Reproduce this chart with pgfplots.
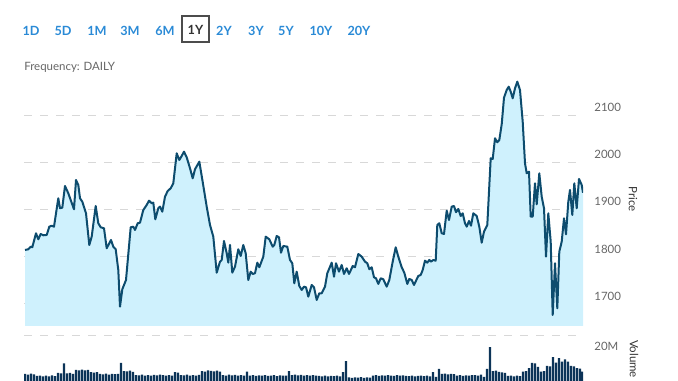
\documentclass[border=0pt]{standalone}
\usepackage{fontspec}
\setmainfont{Lato}
\usepackage{pgfplots}
\usepackage{pgfplotstable}
\pgfplotsset{compat=1.18}
\definecolor{linec}{RGB}{13,76,110}
\definecolor{fillc}{RGB}{207,241,253}
\definecolor{btn}{RGB}{42,138,214}
\definecolor{lbl}{RGB}{102,102,102}
\definecolor{gridc}{RGB}{216,216,216}
\definecolor{volc}{RGB}{12,52,88}

\pgfplotstableread{
x price
25 1813.4
28.3 1814.9
30.7 1820.4
32.3 1819.2
36 1848.9
38.3 1836.1
40.7 1847.4
43.3 1844.6
46.7 1845.3
49.3 1862.9
51.7 1865.0
54 1862.9
58.3 1923.2
60 1902.0
62.3 1903.2
65 1949.3
68.3 1933.8
74 1899.8
76 1962.0
78.3 1951.4
80 1923.2
82.3 1916.0
86 1891.3
89.3 1824.0
91.7 1841.7
95.7 1906.8
98.3 1870.1
100.7 1861.6
104 1859.5
106.7 1817.0
111 1834.7
113.3 1820.4
115.7 1814.9
118.3 1771.0
120 1693.0
122.3 1730.0
126 1749.7
130.7 1861.6
133.3 1862.9
135 1855.9
137.7 1870.1
140 1871.4
143.3 1898.3
146.7 1909.0
149 1918.1
151.7 1912.6
153.3 1913.9
155.3 1878.6
158.3 1902.0
160 1905.4
162.3 1894.8
165 1926.6
167.7 1938.7
170.7 1944.4
173.3 1955.0
176.7 2018.7
179.3 2004.5
181.7 2013.0
184 2022.1
186.7 2010.2
190 1986.9
192.7 1965.6
195 1984.8
199.3 2000.9
201 1979.7
204 1940.8
206.7 1905.4
210 1866.5
213.3 1841.7
216.7 1765.2
220 1788.6
221.7 1792.2
224 1832.5
226.7 1806.4
228.3 1786.5
230 1824.0
232.3 1765.2
235 1778.0
238.3 1814.9
240.7 1800.7
243.3 1824.0
245.7 1806.4
248.3 1749.7
250.7 1767.4
252.7 1762.5
255 1764.0
257.3 1786.5
259.3 1776.7
263.3 1799.2
265.7 1841.7
269.3 1836.1
272.7 1820.4
274.3 1824.0
276.7 1843.1
279 1840.4
281 1807.7
283.3 1821.9
287.3 1820.4
290 1792.2
292.3 1785.2
294.3 1742.7
296.7 1767.4
299.3 1737.0
301.7 1728.5
304 1735.5
306 1734.2
308.3 1714.3
311.7 1739.1
314 1734.2
316.7 1707.3
319.3 1721.5
321.7 1721.5
325 1735.5
327.3 1764.0
331.7 1786.5
334 1756.7
336 1785.2
339 1767.4
341.7 1781.6
344 1762.5
346.7 1774.6
349 1762.5
351.7 1774.6
352.7 1779.5
355 1776.7
358.3 1804.9
361.7 1799.2
365 1788.6
367.3 1785.2
369.3 1772.5
371.7 1776.7
374 1755.5
376 1753.3
378.3 1741.3
380.7 1753.3
383.3 1751.2
386.7 1735.5
389.3 1749.7
392.7 1788.6
395.7 1819.1
398.3 1799.2
401.7 1776.7
404.3 1765.2
407.3 1741.3
409.3 1751.9
411.7 1749.7
414 1739.1
416.7 1751.2
418.3 1758.2
420.7 1760.4
422.7 1771.0
425 1790.7
427.3 1786.5
429.3 1792.2
431 1788.6
433.3 1792.2
435.7 1790.7
437.3 1866.5
439.3 1870.1
441.7 1848.9
444 1847.4
446.7 1896.9
449 1877.1
451.7 1905.4
454 1906.8
456 1893.5
458.3 1900.5
460.7 1885.6
462.7 1891.3
465 1870.1
466.7 1862.9
469 1875.0
471 1865.0
473.3 1891.3
476.7 1885.6
479.3 1862.9
481.7 1828.9
484 1852.3
487.3 1866.5
490.7 2008.1
492.7 2006.6
495 2050.6
497.3 2042.1
499.3 2046.9
501.7 2080.3
504 2136.8
506.7 2153.1
508.7 2160.1
510.7 2149.5
512.7 2135.5
515 2156.7
517.3 2170.8
520 2153.1
522.7 2085.8
525 1997.5
526.7 1976.2
529 1979.7
530.7 1884.1
532.7 1884.1
535 1955.0
536.7 1910.4
539.3 1976.2
541.7 1926.6
544 1902.0
546 1799.2
548.3 1891.3
550.7 1831.0
552.7 1675.4
555 1785.2
557.3 1689.6
559.3 1809.8
561.7 1831.0
564 1880.7
566 1846.7
568.3 1916.0
570 1940.8
572.3 1887.7
574.3 1955.0
576.7 1902.0
579 1964.3
581.7 1951.4
583 1935.0
}\pricedata

\pgfplotstableread{
x vol
25 4.0
28 3.7
31 4.2
34 3.8
37 2.9
40 3.1
43 2.7
46 3.0
49 2.6
52 3.2
55 2.8
58 4.6
61 4.3
64 10.1
67 4.4
70 4.6
73 4.1
76 6.3
79 6.0
82 6.5
85 6.1
88 6.4
91 5.0
94 4.8
97 5.1
100 4.0
103 3.8
106 4.2
109 3.6
112 4.1
115 3.9
118 4.0
121 10.3
124 5.7
127 5.5
130 5.9
133 5.2
136 3.4
139 3.2
142 3.6
145 3.1
148 3.4
151 3.0
154 3.5
157 3.2
160 3.6
163 3.3
166 3.0
169 3.4
172 3.1
175 5.0
178 4.8
181 3.4
184 3.2
187 3.6
190 3.1
193 3.4
196 3.0
199 3.5
202 5.7
205 5.4
208 6.0
211 5.8
214 5.5
217 5.9
220 5.3
223 3.4
226 3.1
229 3.6
232 3.2
235 3.5
238 3.0
241 3.3
244 3.1
247 5.3
250 3.1
253 3.3
256 2.9
259 3.2
262 3.0
265 3.4
268 2.9
271 3.1
274 3.3
277 2.8
280 3.2
283 3.0
286 3.1
289 5.7
292 3.4
295 3.6
298 3.2
301 3.5
304 3.1
307 3.4
310 3.0
313 3.3
316 3.1
319 2.9
322 2.7
325 3.0
328 2.6
331 2.9
334 2.8
337 3.1
340 2.7
343 5.1
346 11.4
349 2.0
352 1.8
355 2.1
358 1.9
361 2.2
364 1.8
367 2.0
370 1.9
373 3.1
376 3.3
379 2.9
382 3.2
385 3.0
388 3.4
391 3.1
394 2.9
397 3.3
400 3.0
403 3.2
406 2.9
409 2.8
412 3.0
415 2.7
418 2.9
421 3.1
424 2.8
427 3.0
430 2.7
433 5.1
436 2.3
439 6.9
442 4.0
445 4.2
448 3.8
451 4.1
454 3.9
457 3.1
460 3.3
463 2.9
466 3.2
469 3.0
472 3.4
475 3.4
478 3.1
481 3.6
484 2.3
487 6.9
490 19.4
493 5.7
496 5.9
499 5.2
502 4.9
505 4.6
508 2.9
511 3.1
514 2.7
517 3.0
520 2.8
523 5.4
526 5.6
529 7.3
532 10.3
535 10.0
538 8.0
541 5.4
544 5.6
547 8.6
550 8.4
553 13.7
556 10.5
559 13.0
562 11.0
565 12.4
568 11.0
571 8.6
574 8.4
577 7.3
580 7.0
582 5.3
}\voldata

\begin{document}
\begin{tikzpicture}[x=0.75pt,y=0.75pt]
\path[use as bounding box] (0,0) rectangle (678,381);

% range buttons
\begin{scope}[every node/.style={font=\bfseries\fontsize{9.5}{11}\selectfont, text=btn, inner sep=0pt}]
\node at (31,350) {1D};
\node at (63,350) {5D};
\node at (97,350) {1M};
\node at (130,350) {3M};
\node at (165,350) {6M};
\node[text=black!80] at (195.5,351) {1Y};
\node at (224,350) {2Y};
\node at (256,350) {3Y};
\node at (286,350) {5Y};
\node at (321,350) {10Y};
\node at (359,350) {20Y};
\end{scope}
\draw[black!70, line width=0.8pt] (182,365) rectangle (209,339);

\node[anchor=west, inner sep=0pt, text=lbl, font=\fontsize{8.6}{10}\selectfont] at (24,314) {Frequency: DAILY};

\begin{axis}[
  at={(18pt,41.25pt)}, anchor=south west, scale only axis,
  width=419.25pt, height=186.5pt,
  xmin=24, xmax=583, ymin=1652, ymax=2180,
  axis line style={draw=none},
  major tick length=0pt,
  xtick=\empty,
  ytick={1700,1800,1900,2000,2100},
  yticklabel pos=right,
  ymajorgrids,
  grid style={gridc, line width=0.75pt, dash pattern=on 6pt off 6pt},
  /pgf/number format/1000 sep={},
  /pgf/number format/assume math mode=true,
  yticklabel style={font=\fontsize{8.6}{10}\selectfont, text=lbl, anchor=west, xshift=5pt, yshift=5.5pt},
  clip=true,
]
\addplot[fill=fillc, draw=none] table[x=x, y=price] {\pricedata} \closedcycle;
\addplot[linec, line width=1.5pt, line join=round, mark=none] table[x=x, y=price] {\pricedata};
\end{axis}

\draw[gridc, line width=0.75pt, dash pattern=on 6pt off 6pt] (24,45) -- (583,45);

\begin{axis}[
  at={(18pt,0pt)}, anchor=south west, scale only axis,
  width=419.25pt, height=33.75pt,
  xmin=24, xmax=583, ymin=0, ymax=25.7,
  axis line style={draw=none},
  major tick length=0pt,
  xtick=\empty,
  ytick={20}, yticklabels={20M},
  yticklabel pos=right,
  yticklabel style={font=\fontsize{8.6}{10}\selectfont, text=lbl, anchor=west, xshift=5pt},
  clip=true,
]
\addplot[ybar, bar width=1.75pt, fill=volc, draw=none] table[x=x, y=vol] {\voldata};
\end{axis}

\node[rotate=-90, text=black!80, font=\fontsize{8.6}{10}\selectfont] at (633,182) {Price};
\node[rotate=-90, text=black!80, font=\fontsize{8.6}{10}\selectfont] at (634,22) {Volume};
\end{tikzpicture}
\end{document}
